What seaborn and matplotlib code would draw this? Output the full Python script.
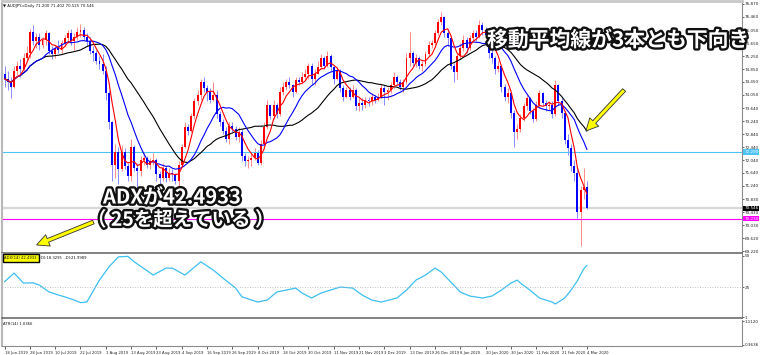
import numpy as np
import pandas as pd
import seaborn as sns
import matplotlib
matplotlib.use("Agg")
import matplotlib.pyplot as plt
import matplotlib.patheffects as pe
from matplotlib.patches import FancyArrowPatch

# --- daily AUDJPY bars, 18 Jun 2019 .. 4 Mar 2020 ---
first_open = 74.70
closes = [
    74.55, 74.45, 74.30, 74.80, 74.95, 74.85, 75.20, 75.35, 76.00, 75.70,
    75.85, 75.60, 75.75, 75.95, 75.40, 75.30, 75.50, 75.45, 75.65, 75.80,
    75.95, 75.70, 75.85, 76.00, 76.05, 75.85, 75.70, 75.40, 75.35, 75.10,
    75.00, 74.80, 74.10, 73.20, 71.90, 72.30, 71.75, 72.30, 71.85, 71.55,
    72.45, 71.80, 71.70, 72.05, 72.10, 71.90, 72.00, 72.05, 71.60, 71.50,
    71.80, 71.50, 71.65, 71.60, 71.40, 71.90, 72.45, 73.05, 72.95, 73.40,
    73.85, 74.05, 74.45, 74.25, 74.15, 73.90, 74.05, 73.45, 73.20, 72.95,
    72.70, 73.10, 73.00, 72.75, 72.90, 72.15, 72.00, 72.05, 72.10, 72.25,
    71.95, 72.55, 73.05, 73.75, 73.40, 73.75, 73.45, 74.15, 74.30, 74.45,
    74.35, 74.15, 74.50, 74.45, 74.60, 74.70, 74.95, 74.55, 74.70, 74.90,
    75.20, 74.95, 75.25, 74.90, 74.55, 74.80, 74.25, 74.00, 74.20, 74.00,
    74.20, 73.70, 73.80, 73.75, 73.90, 73.85, 74.00, 73.90, 74.00, 74.25,
    74.15, 74.20, 74.35, 74.60, 74.45, 74.30, 74.45, 75.20, 75.35, 75.05,
    75.20, 74.95, 75.00, 75.30, 75.60, 75.65, 75.95, 76.30, 76.45, 75.95,
    75.80, 74.95, 74.75, 75.25, 75.50, 75.75, 75.50, 75.80, 75.95, 75.85,
    76.20, 76.05, 75.90, 75.35, 75.20, 74.85, 74.95, 74.30, 74.00, 74.10,
    73.50, 72.90, 73.00, 73.35, 73.70, 73.95, 73.55, 73.30, 73.75, 74.10,
    73.80, 73.70, 73.75, 73.45, 74.35, 73.85, 73.50, 72.65, 72.40, 71.85,
    71.65, 70.45, 71.10, 71.20, 70.546,
]
highs = [
    74.95, 74.80, 74.60, 74.95, 75.10, 75.15, 75.35, 75.55, 76.10, 76.20,
    75.95, 75.95, 75.85, 76.05, 76.00, 75.55, 75.60, 75.75, 75.75, 75.90,
    76.05, 76.10, 75.95, 76.15, 76.25, 76.15, 75.95, 75.85, 75.55, 75.45,
    75.25, 75.30, 74.95, 74.20, 73.25, 72.55, 72.45, 72.50, 72.40, 71.95,
    72.70, 72.50, 71.95, 72.15, 72.30, 72.15, 72.10, 72.25, 72.10, 71.70,
    71.95, 71.85, 71.80, 71.75, 71.65, 72.00, 72.55, 73.20, 73.15, 73.50,
    73.95, 74.20, 74.55, 74.60, 74.35, 74.25, 74.45, 74.20, 73.55, 73.30,
    73.05, 73.20, 73.20, 73.10, 73.05, 73.00, 72.25, 72.15, 72.25, 72.40,
    72.35, 72.65, 73.20, 73.90, 73.75, 73.90, 73.80, 74.30, 74.45, 74.55,
    74.60, 74.40, 74.60, 74.60, 74.75, 74.85, 75.05, 75.05, 74.85, 75.10,
    75.30, 75.25, 75.40, 75.30, 74.95, 74.90, 74.85, 74.35, 74.30, 74.30,
    74.35, 74.25, 73.95, 73.95, 74.00, 74.00, 74.10, 74.05, 74.10, 74.40,
    74.35, 74.30, 74.45, 74.75, 74.65, 74.55, 74.55, 75.35, 76.00, 75.40,
    75.30, 75.25, 75.10, 75.40, 75.70, 75.75, 76.05, 76.40, 76.60, 76.50,
    76.10, 75.85, 75.05, 75.35, 75.65, 75.90, 75.85, 75.90, 76.05, 76.05,
    76.35, 76.30, 76.15, 75.95, 75.45, 75.25, 75.10, 74.95, 74.40, 74.25,
    74.15, 73.60, 73.15, 73.45, 73.80, 74.05, 74.00, 73.65, 73.85, 74.20,
    74.15, 73.90, 73.85, 73.85, 74.50, 74.40, 73.95, 73.55, 72.85, 72.55,
    72.05, 71.80, 71.25, 71.80, 71.402,
]
lows = [
    74.30, 74.20, 73.95, 74.25, 74.65, 74.60, 74.80, 75.10, 75.20, 75.60,
    75.50, 75.45, 75.50, 75.60, 75.30, 75.15, 75.20, 75.35, 75.35, 75.55,
    75.65, 75.60, 75.45, 75.75, 75.85, 75.75, 75.55, 75.30, 75.10, 75.00,
    74.85, 74.70, 73.90, 73.00, 71.40, 71.50, 71.30, 71.70, 71.75, 71.40,
    71.40, 71.70, 71.20, 71.55, 71.90, 71.80, 71.75, 71.90, 71.40, 70.95,
    71.40, 71.35, 71.40, 71.40, 71.30, 71.25, 71.85, 72.40, 72.80, 72.90,
    73.30, 73.75, 73.90, 74.15, 73.85, 73.80, 73.85, 73.35, 73.10, 72.85,
    72.60, 72.55, 72.90, 72.65, 72.60, 72.00, 71.85, 71.80, 71.85, 72.05,
    71.90, 71.90, 72.45, 73.00, 73.30, 73.30, 73.35, 73.40, 74.05, 74.20,
    74.25, 74.00, 74.10, 74.35, 74.40, 74.50, 74.55, 74.40, 74.35, 74.70,
    74.85, 74.85, 74.90, 74.80, 74.40, 74.50, 74.15, 73.85, 73.95, 73.90,
    73.95, 73.60, 73.55, 73.60, 73.65, 73.70, 73.75, 73.80, 73.85, 73.95,
    73.75, 73.90, 74.10, 74.25, 74.35, 74.20, 74.15, 74.40, 74.95, 74.95,
    74.90, 74.85, 74.80, 74.95, 75.25, 75.50, 75.60, 75.90, 76.20, 75.85,
    75.55, 74.85, 74.45, 74.55, 75.15, 75.40, 75.35, 75.45, 75.70, 75.70,
    75.80, 75.90, 75.80, 75.20, 75.05, 74.70, 74.75, 74.15, 73.85, 73.80,
    73.35, 72.45, 72.70, 72.90, 73.25, 73.60, 73.45, 73.20, 73.25, 73.65,
    73.70, 73.55, 73.60, 73.35, 73.40, 73.75, 73.35, 72.55, 72.20, 71.70,
    71.40, 70.25, 69.40, 70.85, 70.525,
]

# ADX(14) line, sampled where the curve turns
adx_bars = [0, 3, 6, 9, 11, 14, 17, 19, 22, 24, 26, 30, 33, 36, 39, 41, 47, 51,
            53, 57, 62, 66, 69, 73, 75, 80, 83, 86, 89, 92, 94, 97, 100, 103,
            106, 110, 113, 116, 119, 124, 127, 130, 133, 136, 138, 141, 144,
            147, 151, 154, 157, 160, 162, 163, 166, 169, 173, 174, 177, 179,
            181, 182, 183, 184]
adx_vals = [29.2, 36.2, 28.2, 28.4, 26.6, 21.2, 18.6, 17.2, 14.6, 12.5, 13.0,
            30.6, 41.2, 49.2, 49.6, 45.2, 34.6, 40.2, 40.2, 34.6, 45.2, 38.6,
            32.2, 24.2, 17.2, 13.0, 14.6, 21.0, 22.6, 24.2, 20.2, 16.2, 20.2,
            22.6, 25.0, 24.2, 18.6, 14.6, 13.0, 16.2, 22.6, 30.6, 34.6, 40.2,
            37.0, 29.0, 21.0, 17.8, 16.2, 17.8, 22.6, 28.2, 30.6, 28.2, 22.6,
            16.2, 13.0, 11.4, 16.2, 22.6, 30.0, 35.0, 39.5, 42.49]

date_ticks = [0, 8, 16, 24, 32, 40, 48, 56, 64, 72, 80, 88, 96, 104, 112, 120,
              128, 136, 144, 152, 160, 168, 176, 184]
date_labels = ["18 Jun 2019", "28 Jun 2019", "10 Jul 2019", "22 Jul 2019",
               "1 Aug 2019", "13 Aug 2019", "23 Aug 2019", "4 Sep 2019",
               "16 Sep 2019", "26 Sep 2019", "8 Oct 2019", "18 Oct 2019",
               "30 Oct 2019", "11 Nov 2019", "21 Nov 2019", "3 Dec 2019",
               "13 Dec 2019", "26 Dec 2019", "8 Jan 2020", "20 Jan 2020",
               "30 Jan 2020", "11 Feb 2020", "21 Feb 2020", "4 Mar 2020"]
price_ticks = [76.870, 76.460, 76.050, 75.650, 75.250, 74.850, 74.450, 74.050,
               73.640, 73.240, 72.840, 72.440, 72.040, 71.640, 71.240, 70.830,
               70.430, 70.030, 69.620, 69.220]

last_price = 70.546
cyan_level = 72.290
magenta_level = 70.230

# ---------------------------------------------------------------
W, H = 760, 355


def fx(x):
    return x / W


def fy(y):
    return 1 - y / H


df = pd.DataFrame({"bar": np.arange(len(closes)), "close": closes,
                   "high": highs, "low": lows})
df["open"] = [first_open] + closes[:-1]
df["ma5"] = df.close.rolling(5, min_periods=1).mean()
df["ma13"] = df.close.rolling(13, min_periods=1).mean()
df["ma25"] = df.close.rolling(25, min_periods=1).mean()
up = df.close >= df.open

sns.set_style("white")
plt.rcParams["font.family"] = ["DejaVu Sans", "Noto Sans CJK JP"]

fig = plt.figure(figsize=(7.6, 3.55), dpi=100)
left, right = fx(2), fx(742)
ax = fig.add_axes([left, fy(253), right - left, fy(1) - fy(253)])
adx_ax = fig.add_axes([left, fy(318), right - left, fy(254) - fy(318)])
atr_ax = fig.add_axes([left, fy(346), right - left, fy(320) - fy(346)])

xlim = (-0.8, 233)
SMALL = 3.0

# candles
ax.vlines(df.bar[up], df.low[up], df.high[up], color="#ff8a8a", lw=0.7)
ax.vlines(df.bar[~up], df.low[~up], df.high[~up], color="#8a8aff", lw=0.7)
body = (df.close - df.open).abs().clip(lower=0.02)
ax.bar(df.bar, body, bottom=df[["open", "close"]].min(axis=1), width=0.62,
       color=np.where(up, "#ff0000", "#0000ff"), linewidth=0, zorder=3)

sns.lineplot(x="bar", y="ma25", data=df, ax=ax, color="black", lw=0.8, zorder=4)
sns.lineplot(x="bar", y="ma13", data=df, ax=ax, color="#0000ff", lw=0.8, zorder=4)
sns.lineplot(x="bar", y="ma5", data=df, ax=ax, color="#ff0000", lw=0.8, zorder=4)

ax.axhline(cyan_level, color="#4cc3f5", lw=0.8, zorder=2)
ax.axhline(last_price, color="#d8d8d8", lw=1.6, zorder=1)
ax.axhline(magenta_level, color="#ff00ff", lw=0.8, zorder=2)

ax.set_xlim(*xlim)
ax.set_ylim(69.17, 76.95)
ax.set_xticks([])
ax.yaxis.tick_right()
ax.set_yticks(price_ticks)
ax.set_yticklabels([f"{p:.3f}" for p in price_ticks])
ax.set_xlabel("")
ax.set_ylabel("")

for level, txt, bg in [(cyan_level, f"{cyan_level:.3f}", "#4cc3f5"),
                       (last_price, f"{last_price:.3f}", "black"),
                       (magenta_level, f"{magenta_level:.3f}", "#ff00ff")]:
    ax.text(1.003, level, txt, transform=ax.get_yaxis_transform(),
            fontsize=SMALL, color="white", va="center", ha="left", zorder=6,
            bbox=dict(boxstyle="square,pad=0.2", fc=bg, ec="none"))

# ADX panel
sns.lineplot(x=adx_bars, y=adx_vals, ax=adx_ax, color="#3dbff0", lw=0.9)
adx_ax.axhline(25, color="#b0b0b0", lw=0.6, ls=(0, (1, 2)))
adx_ax.set_xlim(*xlim)
adx_ax.set_ylim(0.2, 51.5)
adx_ax.set_xticks([])
adx_ax.yaxis.tick_right()
adx_ax.set_yticks([50, 25, 1])
adx_ax.set_yticklabels(["50", "25", "1"])

# ATR panel (empty)
atr_ax.set_xlim(*xlim)
atr_ax.set_ylim(0.33, 1.15)
atr_ax.yaxis.tick_right()
atr_ax.set_yticks([1.1120, 0.3636])
atr_ax.set_yticklabels(["1.1120", "0.3636"])
atr_ax.set_xticks(date_ticks)
atr_ax.set_xticklabels(date_labels, ha="left")

for a in (ax, adx_ax, atr_ax):
    a.tick_params(axis="y", right=True, left=False, labelsize=SMALL, length=1.5,
                  width=0.5, pad=0.6, colors="#222222")
    a.tick_params(axis="x", bottom=True, labelsize=2.7, length=2, width=0.5,
                  pad=1.5, colors="#222222")
    a.spines["left"].set_color("#b8b8b8")
    a.spines["left"].set_linewidth(1.5)
    a.spines["right"].set_color("#8c8c8c")
    a.spines["right"].set_linewidth(0.8)
    a.spines["top"].set_visible(False)
    a.spines["bottom"].set_color("#606060")
    a.spines["bottom"].set_linewidth(1.1)
    a.set_facecolor("white")
ax.spines["top"].set_visible(True)
ax.spines["top"].set_color("#c8c8c8")
ax.spines["top"].set_linewidth(2.0)
atr_ax.spines["bottom"].set_color("#8c8c8c")
atr_ax.spines["bottom"].set_linewidth(0.8)

# small panel captions
fig.text(fx(3), fy(5.5), "\u25bc AUDJPY-cDaily 71.200 71.402 70.525 70.546",
         fontsize=2.8, va="center", ha="left", color="#111111")
fig.text(fx(4.5), fy(258), "ADX(14) 42.4933", fontsize=2.7, va="center",
         ha="left", color="#111111",
         bbox=dict(boxstyle="square,pad=0.5", fc="#ffff00", ec="black", lw=1.0))
fig.text(fx(38), fy(258), "+DI:18.3295  -DI:21.9989", fontsize=2.7,
         va="center", ha="left", color="#111111")
fig.text(fx(3), fy(324), "ATR(14) 1.0366", fontsize=2.7, va="center",
         ha="left", color="#111111")

# annotations
jp = ["Noto Sans CJK JP", "DejaVu Sans"]
outline = [pe.withStroke(linewidth=3.4, foreground="#111111")]
fig.text(fx(487), fy(40), "移動平均線が3本とも下向き", family=jp, weight="bold",
         fontsize=15, color="white", va="center", ha="left",
         path_effects=outline, zorder=10)
fig.text(fx(103), fy(197), "ADXが42.4933", family=jp, weight="bold",
         fontsize=14.5, color="white", va="center", ha="left",
         path_effects=outline, zorder=10)
fig.text(fx(87), fy(220), "（ 25を超えている ）", family=jp, weight="bold",
         fontsize=14, color="white", va="center", ha="left",
         path_effects=outline, zorder=10)

for tail, head in [((626, 88), (584, 133)), ((96, 221), (34, 246))]:
    arrow = FancyArrowPatch((fx(tail[0]), fy(tail[1])), (fx(head[0]), fy(head[1])),
                            transform=fig.transFigure,
                            arrowstyle="simple,head_length=1.1,head_width=1.1,tail_width=0.35",
                            mutation_scale=8, fc="#ffff00", ec="#333333", lw=0.6,
                            zorder=10)
    fig.add_artist(arrow)

plt.savefig("out.png", dpi=100)
